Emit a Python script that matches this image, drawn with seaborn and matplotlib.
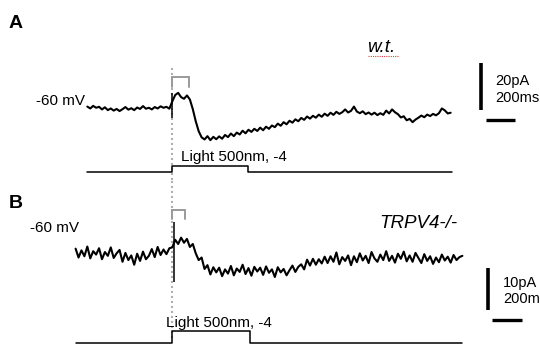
import matplotlib.pyplot as plt
import numpy as np
import pandas as pd
import seaborn as sns

# recording traces, pA relative to holding current, sampled every 20 ms
DT_MS = 20
WT_START_MS = -580
WT_CURRENT = [
    0.6, -0.2, 0.9, 0.1, 0.5, -0.6, 0.3, -0.9, -0.2, -1.1,
    -0.4, -1.3, -0.5, 0.4, -0.7, -0.1, -0.9, 0.2, -0.4, 0.8,
    -0.3, 0.1, -0.6, 0.4, -0.2, 0.7, 0.1, 0.5, -0.3,
    2.8, 5.5, 6.4, 4.6, 3.9, 5.3, 3.6,
    -0.5, -5.6, -9.8, -12.4, -13.3, -11.9, -13.6, -12.2, -13.2, -12.0, -13.0,
    -11.4, -12.3, -10.8, -11.9, -10.4, -11.2, -9.6, -10.7, -9.2, -10.1,
    -8.8, -9.7, -8.3, -9.4, -7.9, -8.8, -7.4, -8.1, -6.6, -7.5,
    -6.0, -6.9, -5.4, -6.2, -4.8, -5.6, -4.2, -5.0, -3.6, -4.5,
    -3.3, -4.1, -2.8, -3.7, -2.4, -3.3, -2.0, -2.9, -1.6, -2.5,
    -1.8, -0.6, -1.9, -1.2, 0.6, -1.5, -2.2, -1.4, -2.6, -1.9,
    -2.8, -2.0, -3.0, -2.2, -2.9, -1.1, -2.3, -0.6, -1.8, -2.6,
    -4.0, -3.5, -5.2, -4.6, -6.0, -4.9, -4.1, -3.2, -3.9, -2.8,
    -3.4, -2.5, -3.1, -2.2, -0.2, -1.0, -2.3, -2.0,
]
KO_START_MS = -660
KO_CURRENT = [
    1.5, -0.6, 1.1, -0.3, 2.0, -0.8, 0.9, 0.1, 1.6, -1.0, 0.7, -0.2, 1.8, -0.7, 0.4, 1.2,
    -1.6, 0.5, -1.2, -0.1, -2.3, 0.3, -1.4, 0.8, -1.0, -0.2,
    1.4, -0.5, 1.9, 0.0, 1.3, 0.2, 1.6,
    1.8, 3.6, 2.6, 4.1, 2.9, 3.8,
    1.9, 2.6, 0.4, -1.2, -0.6, -3.3, -2.4,
    -4.6, -2.9, -4.1, -3.0, -5.0, -3.4, -4.4, -2.6, -4.8, -3.2, -4.0, -2.3, -4.5, -3.1, -4.9, -2.8, -3.9, -3.0,
    -4.7, -2.7, -4.2, -3.4, -5.2, -2.9, -4.1, -3.3, -4.8, -3.6, -2.5, -4.0, -2.8,
    -2.2, -3.4, -1.1, -2.5, -0.9, -2.3, -1.0,
    -2.0, -0.4, -1.9, -0.3, -1.6, 0.6, -2.2, -0.5, -1.4, -0.1,
    -2.4, -0.3, -1.7, 0.4, -1.3, -0.2, -1.9, 0.7, -0.8, -1.6,
    0.1, -1.2, 0.9, -1.4, -0.2, -1.8, 0.3, -0.9, 0.8, -1.5,
    -0.1, -1.6, 0.5, -0.7, -1.9, 0.2, -1.4, -0.3, -2.1, -0.6,
    -1.7, 0.1, -1.3, -0.4, -1.8, 0.0, -1.2, -0.5, -0.2,
]
# stimulus artefact at light onset: (time ms, low pA, high pA)
WT_ARTIFACT = (0, -4.2, 6.3)
KO_ARTIFACT = (10, -6.4, 7.8)

# light pulse timing (ms)
WT_LIGHT = [0, 520]
KO_LIGHT = [0, 530]
WT_END_MS = 1910
KO_END_MS = 1980

# scale bars
WT_BAR_PA = 20
KO_BAR_PA = 10
BAR_MS = 200

# layout in pixels of a 540x344 picture
W, H = 540, 344
ONSET_PX = 172.3
PX_PER_MS = 0.1465
XLIM = (-ONSET_PX / PX_PER_MS, (W - ONSET_PX) / PX_PER_MS)


def fx(px):
    return px / W


def fy(py):
    return 1 - py / H


def add_panel_axes(fig, top, bottom, zero_px, px_per_unit):
    ax = fig.add_axes([0, fy(bottom), 1, (bottom - top) / H])
    ax.set_xlim(XLIM)
    ax.set_ylim((zero_px - bottom) / px_per_unit, (zero_px - top) / px_per_unit)
    ax.axis("off")
    ax.patch.set_alpha(0)
    return ax


def trace_frame(start, values):
    t = start + DT_MS * np.arange(len(values))
    return pd.DataFrame({"time": t, "current": values})


def draw_trace(ax, start, values, artifact, lw):
    df = trace_frame(start, values)
    sns.lineplot(data=df, x="time", y="current", ax=ax, color="black",
                 linewidth=lw, estimator=None, sort=False)
    ax.vlines(artifact[0], artifact[1], artifact[2], color="black", linewidth=1.1)
    ax.set_xlim(XLIM)


def draw_light(ax, start, end, light):
    df = pd.DataFrame({
        "time": [start, light[0], light[0], light[1], light[1], end],
        "light": [0, 0, 1, 1, 0, 0],
    })
    sns.lineplot(data=df, x="time", y="light", ax=ax, color="black",
                 linewidth=1.1, estimator=None, sort=False)
    ax.set_xlim(XLIM)


def draw_bracket(ax, width_ms, top, foot):
    ax.plot([0, 0, width_ms, width_ms], [foot, top, top, foot],
            color="#9a9a9a", linewidth=1.4, solid_joinstyle="miter")


def draw_scalebar(ax, x_v, y_v, pa, x_h, y_h):
    ax.plot([x_v, x_v], [y_v, y_v + pa], color="black", linewidth=2.6,
            solid_capstyle="butt")
    ax.plot([x_h, x_h + BAR_MS], [y_h, y_h], color="black", linewidth=2.4,
            solid_capstyle="butt")


sns.set_theme(style="white")
plt.rcParams["font.family"] = ["Liberation Sans", "DejaVu Sans"]

fig = plt.figure(figsize=(W / 100, H / 100), dpi=100)
fig.patch.set_facecolor("white")

# panel A
ax_a = add_panel_axes(fig, 0, 180, 108, 2.365)
ax_a.axvline(0, ymin=0, ymax=(180 - 68) / 180, color="#b0b0b0",
             linewidth=1.5, linestyle=(0, (1, 1.4)))
draw_trace(ax_a, WT_START_MS, WT_CURRENT, WT_ARTIFACT, 1.5)
draw_bracket(ax_a, 113, 13.1, 8.9)
draw_scalebar(ax_a, 2105, -0.85, WT_BAR_PA, 2139, -5.1)
stim_a = add_panel_axes(fig, 150, 180, 172.3, 6.3)
draw_light(stim_a, WT_START_MS, WT_END_MS, WT_LIGHT)

# panel B
ax_b = add_panel_axes(fig, 180, 344, 255, 4.23)
ax_b.axvline(0, ymin=(344 - 338) / 164, ymax=1, color="#b0b0b0",
             linewidth=1.5, linestyle=(0, (1, 1.4)))
draw_trace(ax_b, KO_START_MS, KO_CURRENT, KO_ARTIFACT, 1.5)
draw_bracket(ax_b, 86, 10.6, 8.5)
draw_scalebar(ax_b, 2153, -13.0, KO_BAR_PA, 2184, -15.4)
stim_b = add_panel_axes(fig, 318, 344, 342.7, 11.7)
draw_light(stim_b, KO_START_MS, KO_END_MS, KO_LIGHT)

# labels
txt = dict(color="black", va="center", ha="left")
fig.text(fx(9), fy(23.5), "A", fontsize=14, fontweight="bold", **txt)
fig.text(fx(9), fy(203), "B", fontsize=14, fontweight="bold", **txt)
fig.text(fx(36), fy(101), "-60 mV", fontsize=11, **txt)
fig.text(fx(30), fy(228), "-60 mV", fontsize=11, **txt)
fig.text(fx(367), fy(47), "w.t.", fontsize=13.5, fontstyle="italic", **txt)
fig.lines.append(plt.Line2D([fx(368), fx(399)], [fy(56), fy(56)],
                            transform=fig.transFigure, color="#e04040",
                            linewidth=0.8, linestyle=(0, (1, 1))))
fig.text(fx(379), fy(223), "TRPV4-/-", fontsize=13.5, fontstyle="italic", **txt)
fig.text(fx(181), fy(157.5), "Light 500nm, -4", fontsize=11, **txt)
fig.text(fx(166.5), fy(323.5), "Light 500nm, -4", fontsize=11, **txt)
fig.text(fx(495), fy(81), "20pA", fontsize=10.5, **txt)
fig.text(fx(495), fy(98), "200ms", fontsize=10.5, **txt)
fig.text(fx(503), fy(283), "10pA", fontsize=10.5, **txt)
fig.text(fx(503), fy(299), "200m", fontsize=10.5, **txt)

fig.savefig("out.png", dpi=100)
